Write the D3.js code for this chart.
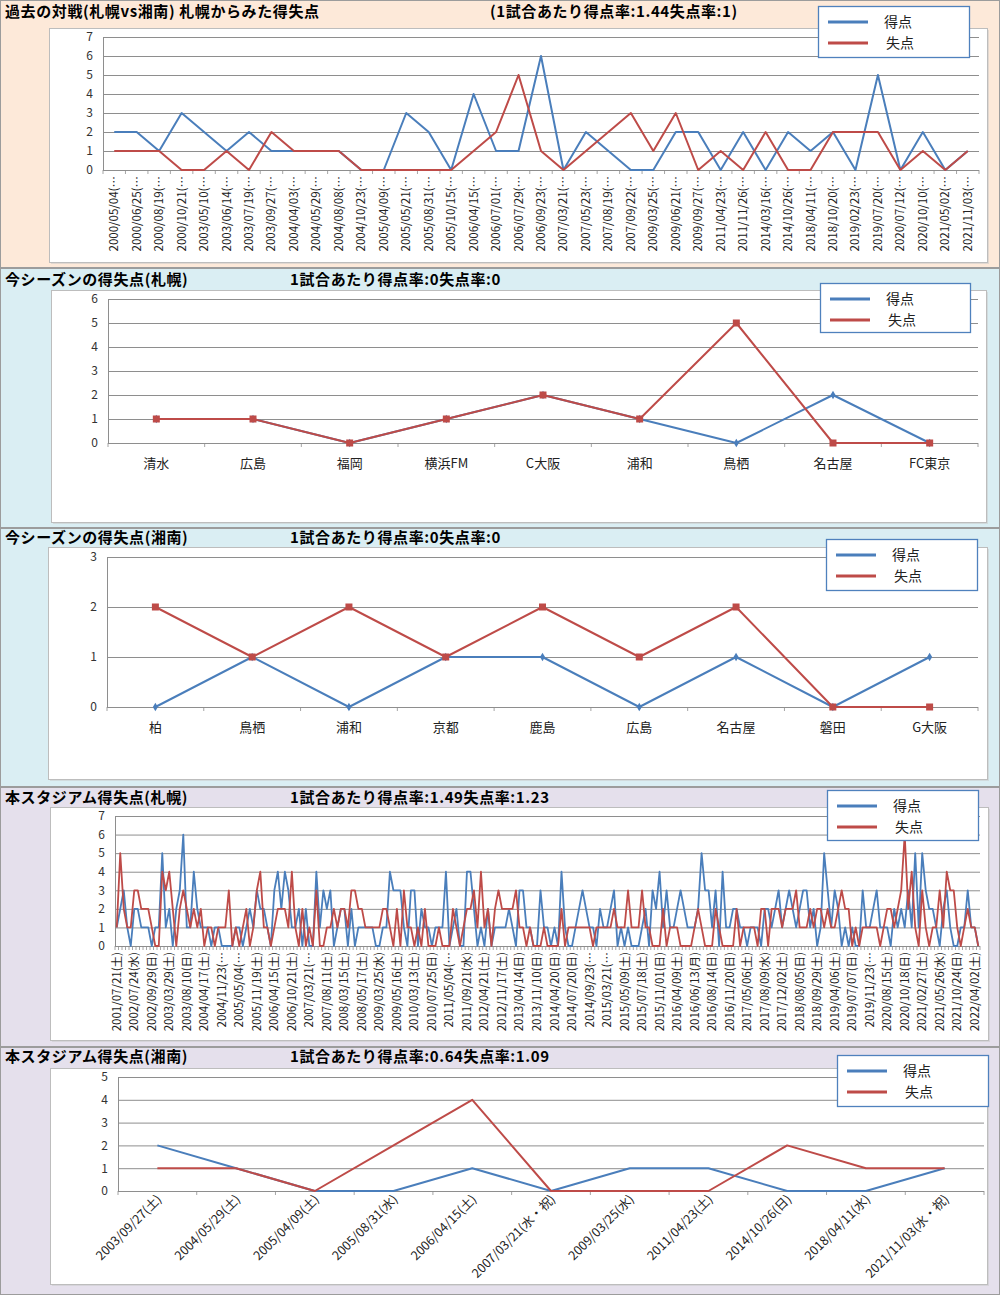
<!DOCTYPE html>
<html><head><meta charset="utf-8">
<script src="https://cdnjs.cloudflare.com/ajax/libs/d3/7.8.5/d3.min.js"></script>
<style>body{margin:0;background:#fff} text{font-family:"Noto Sans CJK JP","Noto Sans",sans-serif}</style>
</head><body><svg id="c" width="1000" height="1295"></svg>
<script>
// ---------- DATA ----------
const seriesNames = ["得点", "失点"];

// Panel 1: head-to-head
const h2hDates = ["2000/05/04","2000/06/25","2000/08/19","2000/10/21","2003/05/10","2003/06/14","2003/07/19","2003/09/27","2004/04/03","2004/05/29","2004/08/08","2004/10/23","2005/04/09","2005/05/21","2005/08/31","2005/10/15","2006/04/15","2006/07/01","2006/07/29","2006/09/23","2007/03/21","2007/05/23","2007/08/19","2007/09/22","2009/03/25","2009/06/21","2009/09/27","2011/04/23","2011/11/26","2014/03/16","2014/10/26","2018/04/11","2018/10/20","2019/02/23","2019/07/20","2020/07/12","2020/10/10","2021/05/02","2021/11/03"];
const h2hScored   = [2,2,1,3,2,1,2,1,1,1,1,0,0,3,2,0,4,1,1,6,0,2,1,0,0,2,2,0,2,0,2,1,2,0,5,0,2,0,1];
const h2hConceded = [1,1,1,0,0,1,0,2,1,1,1,0,0,0,0,0,1,2,5,1,0,1,2,3,1,3,0,1,0,2,0,0,2,2,2,0,1,0,1];

// Panel 2: this season Sapporo
const sapSeasonOpp = ["清水","広島","福岡","横浜FM","C大阪","浦和","鳥栖","名古屋","FC東京"];
const sapSeasonScored   = [1,1,0,1,2,1,0,2,0];
const sapSeasonConceded = [1,1,0,1,2,1,5,0,0];

// Panel 3: this season Shonan
const shoSeasonOpp = ["柏","鳥栖","浦和","京都","鹿島","広島","名古屋","磐田","G大阪"];
const shoSeasonScored   = [0,1,0,1,1,0,1,0,1];
const shoSeasonConceded = [2,1,2,1,2,1,2,0,0];

// Panel 4: stadium record Sapporo
const stadiumSapLabels = ["2001/07/21(土)","2002/07/24(水)","2002/09/29(日)","2003/03/29(土)","2003/08/10(日)","2004/04/17(土)","2004/11/23(…","2005/05/04(…","2005/11/19(土)","2006/04/15(土)","2006/10/21(土)","2007/03/21(…","2007/08/11(土)","2008/03/15(土)","2008/05/17(土)","2009/03/25(水)","2009/05/16(土)","2010/03/13(土)","2010/07/25(日)","2011/05/04(…","2011/09/21(水)","2012/04/21(土)","2012/11/17(土)","2013/04/14(日)","2013/11/10(日)","2014/04/20(日)","2014/07/20(日)","2014/09/23(…","2015/03/21(…","2015/05/09(土)","2015/07/18(土)","2015/11/01(日)","2016/04/09(土)","2016/06/13(月)","2016/08/14(日)","2016/11/20(日)","2017/05/06(土)","2017/08/09(水)","2017/12/02(土)","2018/08/05(日)","2018/09/29(土)","2019/04/06(土)","2019/07/07(日)","2019/11/23(…","2020/08/15(土)","2020/10/18(日)","2021/02/27(土)","2021/05/26(水)","2021/10/24(日)","2022/04/02(土)"];
const stadiumSapLabelEvery = 5;
const stadiumSapScored = [
1,2,3,1,0,2,2,1,1,1, 0,1,1,5,1,2,0,2,3,6, 1,1,4,2,1,1,1,0,1,1, 0,0,0,0,1,1,0,1,2,1, 3,2,2,1,0,3,4,2,4,3, 1,1,2,0,2,0,0,4,1,3, 2,
3,0,1,2,2,0,2,0,1,1, 1,1,1,0,0,1,1,4,3,3, 3,1,0,3,3,0,2,1,1,0, 1,1,1,4,0,1,2,0,0,4, 4,2,0,1,0,2,0,1,
1,1,1,2,1,0,3,3,1,1, 0,0,3,1,1,0,1,0,4,1, 0,0,1,2,3,2,1,1,0,2, 1,1,2,3,0,1,0,1,0,0, 0,1,2,0,3,2,4,1,3,1,
1,2,3,2,1,1,1,2,5,3, 3,1,3,0,4,1,1,2,2,1, 1,0,1,1,1,0,2,2,1,2, 3,1,2,3,2,1,2,3,3,1, 2,0,1,5,3,1,3,2,0,1,
0,1,0,0,3,1,1,2,3,1, 1,1,0,2,1,2,1,3,1,5, 1,5,3,2,2,1,0,2,3,1, 0,0,1,1,3,1,1,0];
const stadiumSapConceded = [
1,5,2,1,1,3,3,2,2,2, 1,0,0,4,3,4,2,0,2,3, 2,1,2,1,2,0,1,1,0,1, 1,1,3,0,1,0,1,2,0,1, 3,4,1,1,0,1,2,2,2,1, 4,1,0,2,0,1,0,3,0,0, 1,
1,2,1,2,2,1,3,3,2,2, 1,1,1,1,1,2,2,1,0,2, 0,3,1,1,0,1,0,2,0,0, 0,1,0,0,0,2,1,0,1,2, 2,3,1,4,1,2,0,2,
3,2,2,2,2,3,1,1,0,1, 0,0,0,1,0,0,0,0,2,0, 1,1,1,1,1,1,1,0,1,1, 1,1,1,2,1,1,1,3,1,1, 1,3,1,1,0,0,0,2,0,1,
1,1,0,0,0,0,1,2,1,0, 0,0,2,1,0,0,0,0,2,0, 1,1,1,1,0,2,2,0,2,2, 2,1,2,2,2,3,1,1,1,2, 1,2,2,1,2,1,1,2,3,2,
2,0,1,0,1,1,1,1,1,0, 1,2,2,1,2,3,6,2,4,1, 0,3,1,0,1,1,3,1,4,3, 3,1,0,1,2,1,1,0];

// Panel 5: stadium record Shonan
const stadiumShoDates = ["2003/09/27(土)","2004/05/29(土)","2005/04/09(土)","2005/08/31(水)","2006/04/15(土)","2007/03/21(水・祝)","2009/03/25(水)","2011/04/23(土)","2014/10/26(日)","2018/04/11(水)","2021/11/03(水・祝)"];
const stadiumShoScored   = [2,1,0,0,1,0,1,1,0,0,1];
const stadiumShoConceded = [1,1,0,2,4,0,0,0,2,1,1];

// ---------- DRAWING ----------
const W = 1000;
const BLUE = "#4a7ebb", RED = "#be4b48", GRID = "#8e8e8e";
const svg = d3.select("#c");

function drawPanel(p) {
  const g = svg.append("g");
  g.append("rect").attr("x", 0.5).attr("y", p.top + 0.5).attr("width", W - 1).attr("height", p.bottom - p.top - 1)
    .attr("fill", p.bg).attr("stroke", "#9c9c9c");
  // chart area
  g.append("rect").attr("x", p.box[0] + 2).attr("y", p.box[1] + 2).attr("width", p.box[2]).attr("height", p.box[3])
    .attr("fill", "#c8c8c8").attr("opacity", 0.5);
  g.append("rect").attr("x", p.box[0] + 0.5).attr("y", p.box[1] + 0.5).attr("width", p.box[2]).attr("height", p.box[3])
    .attr("fill", "#fff").attr("stroke", "#bdbdbd");
  // titles
  [[5, p.title], [p.subX, p.sub]].forEach(([tx, t]) => {
    g.append("text").attr("x", tx).attr("y", p.titleY).attr("font-size", 15).attr("font-weight", "bold")
      .attr("letter-spacing", 0.6).attr("fill", "#000").text(t);
  });

  const n = p.scored.length;
  const x = d3.scaleBand().domain(d3.range(n)).range([p.x0, p.x1]);
  const cx = i => x(i) + x.bandwidth() / 2;
  const y = d3.scaleLinear().domain([0, p.ymax]).range([p.yb, p.yt]);

  const ya = d3.axisLeft(y).ticks(p.ymax).tickSize(-(p.x1 - p.x0)).tickSizeOuter(0).tickPadding(10);
  const yg = g.append("g").attr("transform", `translate(${p.x0},0)`).call(ya);
  yg.select(".domain").attr("stroke", GRID);
  yg.selectAll(".tick line").attr("stroke", GRID).attr("stroke-width", 1);
  yg.selectAll(".tick text").attr("font-size", 12).attr("fill", "#333").attr("font-family", "Noto Sans");

  // x tick marks at band boundaries
  const bounds = d3.range(n + 1).map(i => i < n ? x(i) : p.x1);
  g.selectAll(null).data(bounds).join("line")
    .attr("x1", d => d).attr("x2", d => d).attr("y1", p.yb).attr("y2", p.yb + 4)
    .attr("stroke", GRID).attr("stroke-width", 0.8);

  // x labels
  if (p.labelMode === "flat") {
    g.selectAll(null).data(p.labels).join("text")
      .attr("x", (d, i) => cx(i)).attr("y", p.yb + 25).attr("text-anchor", "middle")
      .attr("font-size", 13).attr("fill", "#222").text(d => d);
  } else if (p.labelMode === "vert") {
    const every = p.every || 1;
    g.selectAll(null).data(p.labels).join("text")
      .attr("transform", (d, i) => `translate(${cx(i * every) + 4},${p.yb + 6}) rotate(-90)`)
      .attr("text-anchor", "end").attr("font-size", p.labelSize).attr("fill", "#222")
      .attr("font-family", "Noto Sans CJK JP").text(d => d);
  } else {
    g.selectAll(null).data(p.labels).join("text")
      .attr("transform", (d, i) => `translate(${cx(i) + 5},${p.yb + 9}) rotate(-45)`)
      .attr("text-anchor", "end").attr("font-size", 12.5).attr("fill", "#222").text(d => d);
  }

  const line = d3.line().x((d, i) => cx(i)).y(d => y(d));
  [[p.scored, BLUE], [p.conceded, RED]].forEach(([data, col]) => {
    g.append("path").datum(data).attr("d", line).attr("fill", "none")
      .attr("stroke", col).attr("stroke-width", p.lw).attr("stroke-linejoin", "round");
  });
  if (p.markers) {
    g.selectAll(null).data(p.scored).join("path")
      .attr("d", d3.symbol(d3.symbolDiamond, 22)())
      .attr("transform", (d, i) => `translate(${cx(i)},${y(d)})`).attr("fill", BLUE);
    g.selectAll(null).data(p.conceded).join("rect")
      .attr("x", (d, i) => cx(i) - 3.5).attr("y", d => y(d) - 3.5).attr("width", 7).attr("height", 7).attr("fill", RED);
  }

  // legend
  const [lx, ly, lw, lh] = p.legend;
  const lg = g.append("g");
  lg.append("rect").attr("x", lx + 0.5).attr("y", ly + 0.5).attr("width", lw).attr("height", lh)
    .attr("fill", "#fff").attr("stroke", "#4f81bd").attr("stroke-width", 1.3);
  [BLUE, RED].forEach((col, k) => {
    const yy = ly + 16 + k * 21;
    lg.append("line").attr("x1", lx + 10).attr("x2", lx + 50).attr("y1", yy).attr("y2", yy)
      .attr("stroke", col).attr("stroke-width", 3.2);
    lg.append("text").attr("x", lx + 66 + k * 2).attr("y", yy + 5).attr("font-size", 14).attr("fill", "#222").text(seriesNames[k]);
  });
}

drawPanel({top: 0, bottom: 268, bg: "#fde9d9", titleY: 17,
  title: "過去の対戦(札幌vs湘南) 札幌からみた得失点", subX: 490, sub: "(1試合あたり得点率:1.44失点率:1)",
  box: [49, 28, 938, 234], x0: 103, x1: 979, yt: 37, yb: 170, ymax: 7,
  scored: h2hScored, conceded: h2hConceded, labels: h2hDates.map(d => d + "(…"), labelMode: "vert", labelSize: 11.5,
  lw: 2, legend: [818, 6, 151, 51]});

drawPanel({top: 268, bottom: 528, bg: "#daeef3", titleY: 285,
  title: "今シーズンの得失点(札幌)", subX: 290, sub: "1試合あたり得点率:0失点率:0",
  box: [51, 290, 935, 232], x0: 108, x1: 978, yt: 299, yb: 443, ymax: 6,
  scored: sapSeasonScored, conceded: sapSeasonConceded, labels: sapSeasonOpp, labelMode: "flat",
  lw: 2, markers: true, legend: [820, 283, 150, 49]});

drawPanel({top: 528, bottom: 787, bg: "#daeef3", titleY: 543,
  title: "今シーズンの得失点(湘南)", subX: 290, sub: "1試合あたり得点率:0失点率:0",
  box: [48, 547, 939, 232], x0: 107, x1: 978, yt: 557, yb: 707, ymax: 3,
  scored: shoSeasonScored, conceded: shoSeasonConceded, labels: shoSeasonOpp, labelMode: "flat",
  lw: 2, markers: true, legend: [826, 539, 151, 51]});

drawPanel({top: 787, bottom: 1047, bg: "#e5e0ec", titleY: 803,
  title: "本スタジアム得失点(札幌)", subX: 290, sub: "1試合あたり得点率:1.49失点率:1.23",
  box: [50, 807, 938, 233], x0: 115, x1: 980, yt: 816, yb: 946, ymax: 7,
  scored: stadiumSapScored, conceded: stadiumSapConceded, labels: stadiumSapLabels, every: stadiumSapLabelEvery,
  labelMode: "vert", labelSize: 11.5, lw: 1.8, legend: [827, 790, 151, 50]});

drawPanel({top: 1047, bottom: 1295, bg: "#e5e0ec", titleY: 1062,
  title: "本スタジアム得失点(湘南)", subX: 290, sub: "1試合あたり得点率:0.64失点率:1.09",
  box: [50, 1068, 937, 216], x0: 118, x1: 984, yt: 1077, yb: 1191, ymax: 5,
  scored: stadiumShoScored, conceded: stadiumShoConceded, labels: stadiumShoDates, labelMode: "diag",
  lw: 2, legend: [837, 1055, 151, 51]});
</script></body></html>
